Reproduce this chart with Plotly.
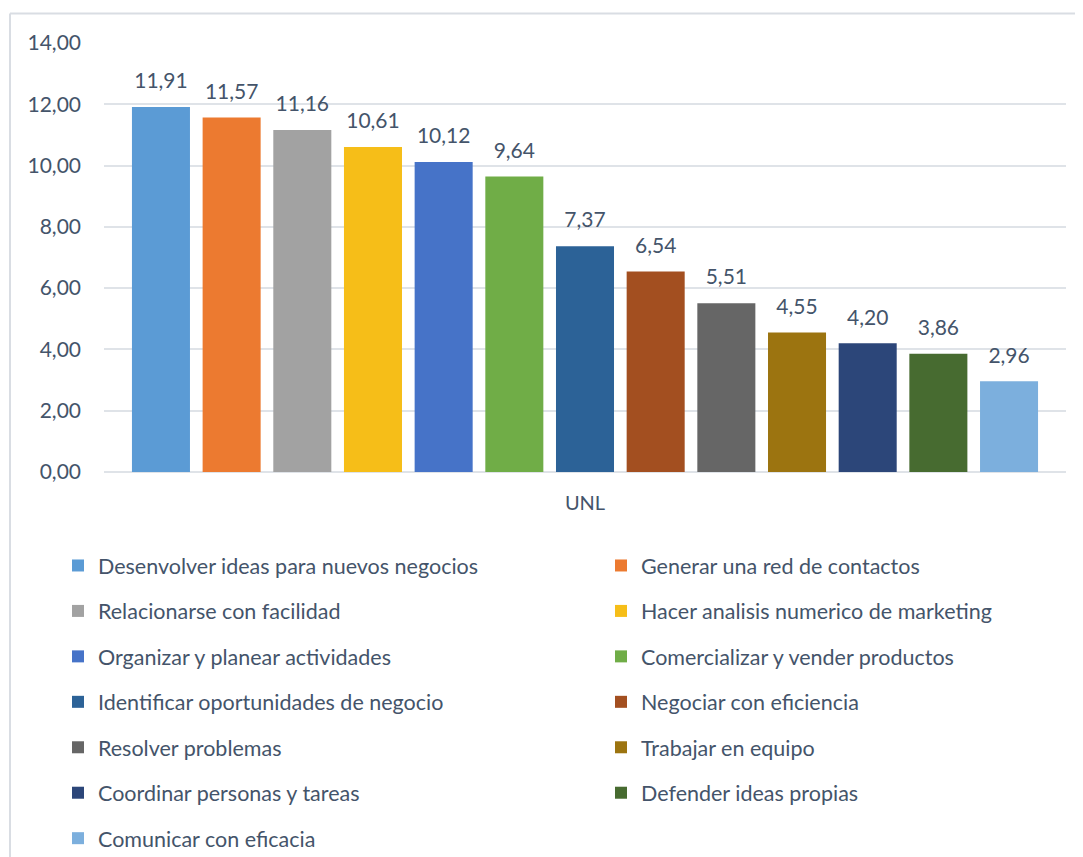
import plotly.graph_objects as go

categories = [
    "Desenvolver ideas para nuevos negocios",
    "Generar una red de contactos",
    "Relacionarse con facilidad",
    "Hacer analisis numerico de marketing",
    "Organizar y planear actividades",
    "Comercializar y vender productos",
    "Identificar oportunidades de negocio",
    "Negociar con eficiencia",
    "Resolver problemas",
    "Trabajar en equipo",
    "Coordinar personas y tareas",
    "Defender ideas propias",
    "Comunicar con eficacia",
]
values = [11.91, 11.57, 11.16, 10.61, 10.12, 9.64, 7.37, 6.54, 5.51, 4.55, 4.20, 3.86, 2.96]
colors = ["#5b9bd5", "#ec7a30", "#a2a2a2", "#f6be18", "#4673c8", "#70ad47", "#2c6297",
          "#a34f20", "#666666", "#9c7410", "#2c4679", "#476b30", "#7cafdd"]
group_label = "UNL"

# page body has an 8px margin, so the figure is slightly smaller than the window
OFF = 8
W, H = 1083 - OFF, 857 - OFF
L, R, T, B = 104 - OFF, 17, 43 - OFF, 385
pw, ph = W - L - R, H - T - B
TXT = "#44546a"
FONT = "Lato"

fig = go.Figure()
for i, (name, v, c) in enumerate(zip(categories, values, colors)):
    fig.add_trace(go.Bar(
        x=[name], y=[v], name=name, marker=dict(color=c, line=dict(width=0)),
        legend="legend" if i % 2 == 0 else "legend2",
        legendgroup=name, hoverinfo="skip",
    ))

fig.add_trace(go.Scatter(
    x=categories, y=values, mode="markers+text",
    text=[f"{v:.2f}".replace(".", ",") for v in values],
    textposition="top center",
    marker=dict(size=20, opacity=0),
    textfont=dict(size=21, color=TXT, family=FONT),
    showlegend=False, hoverinfo="skip",
))

def px_x(x):
    return (x - OFF - L) / pw

def px_y(y):
    return 1 - (y - OFF - T) / ph

border = "#d9dde3"
fig.add_shape(type="line", xref="paper", yref="paper", x0=px_x(10), x1=px_x(1090),
              y0=px_y(13.5), y1=px_y(13.5), line=dict(color=border, width=2))
fig.add_shape(type="line", xref="paper", yref="paper", x0=px_x(10), x1=px_x(10),
              y0=px_y(13.5), y1=px_y(870), line=dict(color=border, width=2))

leg_common = dict(
    orientation="v", xref="container", yref="container", xanchor="left", yanchor="top",
    font=dict(size=21.5, color=TXT, family=FONT), bgcolor="rgba(0,0,0,0)",
    traceorder="grouped", tracegroupgap=14.5, itemclick=False,
)
fig.update_layout(
    width=W, height=H,
    margin=dict(l=L, r=R, t=T, b=B, autoexpand=False),
    paper_bgcolor="white", plot_bgcolor="white",
    separators=",.",
    font=dict(family=FONT, size=21, color=TXT),
    barmode="overlay", bargap=0.179,
    showlegend=True,
    legend=dict(x=(58 - OFF) / W, y=1 - (545 - OFF) / H, **leg_common),
    legend2=dict(x=(601 - OFF) / W, y=1 - (545 - OFF) / H, **leg_common),
    xaxis=dict(
        showticklabels=False, showgrid=False, zeroline=False, showline=False, ticks="",
        range=[-0.806, 12.806], fixedrange=True,
        title=dict(text=group_label, font=dict(size=20, color=TXT, family=FONT), standoff=23),
    ),
    yaxis=dict(
        range=[0, 14], dtick=2, tickformat=".2f", showgrid=True, gridcolor="#dfe3e8",
        gridwidth=1.5, zeroline=True, zerolinecolor="#dfe3e8", zerolinewidth=2,
        showline=False, ticks="", ticklabelstandoff=22,
        tickfont=dict(size=21, color=TXT, family=FONT), fixedrange=True,
    ),
)

fig.write_html("out.html")
